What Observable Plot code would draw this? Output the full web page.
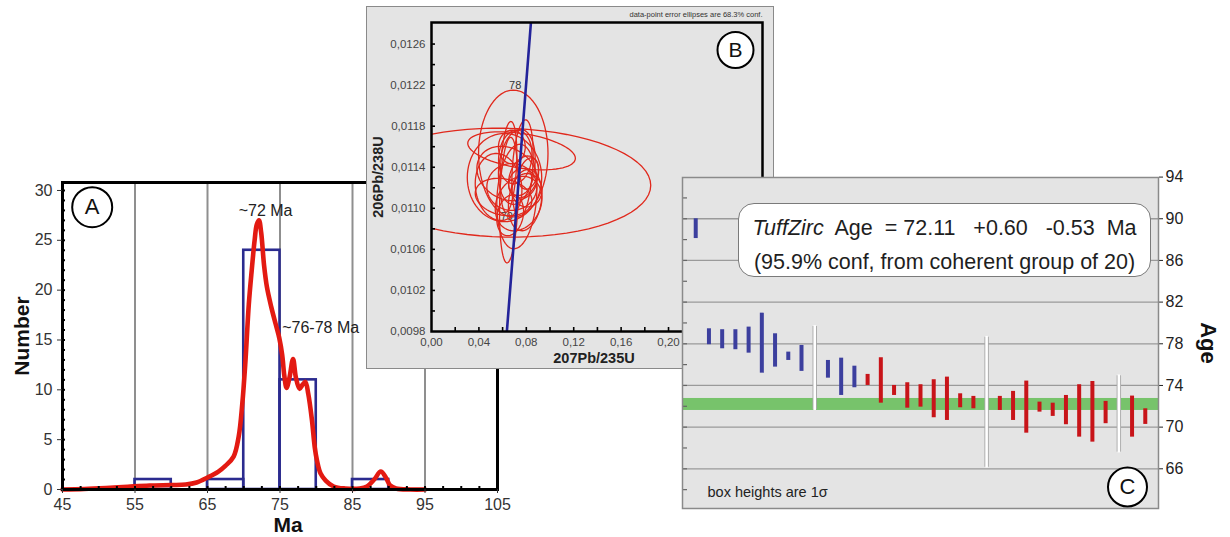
<!DOCTYPE html>
<html><head><meta charset="utf-8">
<script src="https://cdn.jsdelivr.net/npm/d3@7"></script>
<script src="https://cdn.jsdelivr.net/npm/@observablehq/plot@0.6"></script>
<style>
html,body{margin:0;padding:0;background:#fff;}
#root{position:relative;width:1230px;height:537px;overflow:hidden;font-family:"Liberation Sans",Arial,sans-serif;}
.abs{position:absolute;}
#panelB{left:366px;top:6px;width:406px;height:361px;background:#e4e4e4;border:1.5px solid #8a8a8a;}
#tzbox{left:738px;top:203px;width:411px;height:72px;background:#fff;border:1.5px solid #7a7a7a;border-radius:16px;color:#1e1e1e;font-size:21.5px;}
#tzbox .ln{position:absolute;left:0;width:100%;text-align:center;white-space:pre;line-height:24px;}
</style></head><body><div id="root"></div>
<script>
const FONT = '"Liberation Sans", Arial, sans-serif';

// ---------- Panel A: histogram + probability curve ----------
const histStart = [55, 65, 70, 75, 85];
const histEnd   = [60, 70, 75, 80, 90];
const histCount = [1, 1, 24, 11, 1];
const kdeMa = [45,48,51,54,57,60,62,63.5,65,66.5,67.5,68.6,69.3,69.8,70.2,70.7,71.1,71.5,71.8,72.1,72.4,72.8,73.2,73.8,74.4,74.9,75.3,75.6,75.9,76.3,76.8,77.2,77.7,78.1,78.5,78.9,79.4,79.8,80.1,80.6,81.3,82.4,84,86,87,88,88.9,89.6,90.2,91,93,95];
const kdeN  = [0,0.05,0.15,0.28,0.4,0.45,0.5,0.7,1.2,1.8,2.4,3.3,5.3,8.6,12.5,18.6,22,25,26.6,27,25.8,22.5,20.3,18.3,16.6,15.2,13.5,11.4,10.2,11.2,13.1,11.2,10.1,10.5,10.8,9.6,7,4.2,2.9,1.6,0.9,0.3,0.1,0.1,0.3,1.0,1.8,1.2,0.4,0.1,0,0];
const aXTicks = [45,55,65,75,85,95,105];
const aYTicks = [0,5,10,15,20,25,30];
const aGrid = [55,65,75,85,95];
const peakText = ["~72 Ma", "~76-78 Ma"];
const peakMa = [69.3, 75.3];
const peakN = [28.0, 16.2];

// ---------- Panel B: concordia ----------
const eCx  = [0.062,0.069,0.076,0.0616,0.0653,0.0768,0.072,0.0636,0.072,0.0678,0.0777,0.0608,0.0749,0.0707,0.0805,0.0664,0.0566,0.0735,0.0819,0.0678,0.065,0.079];
const eCy  = [0.01125,0.011534,0.01156,0.0113,0.01108,0.011387,0.011115,0.011339,0.011404,0.011208,0.011306,0.01111,0.011257,0.0115,0.011176,0.010932,0.011208,0.011046,0.011339,0.011598,0.011404,0.01108];
const eRx  = [0.123,0.0293,0.0454,0.0314,0.0079,0.009,0.0169,0.0253,0.0155,0.0211,0.0127,0.0239,0.0098,0.0141,0.0127,0.0113,0.0197,0.0197,0.0084,0.0113,0.007,0.0141];
const eRy  = [0.00053,0.000618,0.00017,0.00043,0.0006,0.000455,0.000504,0.00026,0.000358,0.000228,0.000195,0.000179,0.00013,0.00026,0.000163,0.000195,0.000325,0.00026,0.000146,0.000163,0.000423,0.000293];
const eTilt= [-0.05,0,-0.43,0,0.2,0.3,0.15,-0.2,0.2,0,0.3,-0.2,0.2,0.1,0,0.2,-0.1,0.2,0.3,0,0.3,0.2];
const concX = [0.0636, 0.0839];
const concY = [0.0098, 0.01281];
const concAgeLabel = ["78", "70"];
const concAgeX = [0.0706, 0.0636];
const concAgeY = [0.012193, 0.010925];
const bXTicks = [0, 0.04, 0.08, 0.12, 0.16, 0.20];
const bYTicks = [0.0098, 0.0102, 0.0106, 0.0110, 0.0114, 0.0118, 0.0122, 0.0126];

// ---------- Panel C: TuffZirc ranked ages ----------
const cKind = ["blue","blue","blue","blue","blue","blue","blue","blue","blue","white","blue","blue","blue","red","red","red","red","red","red","red","red","red","white","red","red","red","red","red","red","red","red","red","white","red","red"];
const cLow  = [88.1,77.91,77.52,77.43,77.1,75.18,75.76,76.4,75.35,71.67,74.7,73.04,73.78,74.0,72.3,73.04,71.82,71.92,70.9,70.64,71.86,71.76,66.16,71.6,70.64,69.42,71.44,71.03,70.23,69.04,68.56,70.33,67.6,69.04,70.26];
const cHigh = [90.0,79.44,79.35,79.35,79.6,80.94,78.96,77.2,77.84,79.66,76.4,76.62,75.85,75.06,76.66,74.0,74.26,74.07,74.55,74.8,73.2,72.95,78.63,72.95,73.43,74.42,72.4,72.3,73.04,74.07,74.38,72.47,74.93,72.98,71.76];
const cYTicks = [66,70,74,78,82,86,90,94];
const bandLow = 71.6, bandHigh = 72.75;

const root = document.getElementById("root");

// Panel A
const hist = histStart.map((s,i)=>({x1:s, x2:histEnd[i], n:histCount[i]}));
const kde = kdeMa.map((m,i)=>({ma:m, n:kdeN[i]}));
const peaks = peakText.map((t,i)=>({t, ma:peakMa[i], n:peakN[i]}));
const A = Plot.plot({
  width: 510, height: 367, marginLeft: 62, marginRight: 13, marginTop: 12, marginBottom: 48,
  x: {domain: [45,105]}, y: {domain: [0,30.8]},
  style: {fontFamily: FONT, background: "transparent", overflow: "visible", color: "#222"},
  marks: [
    Plot.ruleX(aGrid, {stroke: "#8f8f8f", strokeWidth: 2}),
    Plot.rectY(hist, {x1: "x1", x2: "x2", y: "n", fill: "none", stroke: "#2b2b8f", strokeWidth: 2.6}),
    Plot.line(kde, {x: "ma", y: "n", stroke: "#e31a12", strokeWidth: 4.6, curve: "catmull-rom"}),
    Plot.frame({stroke: "black", strokeWidth: 3}),
    Plot.axisX({ticks: aXTicks, tickSize: 4, tickPadding: 5, fontSize: 16, color: "#333", label: null, tickFormat: d => String(d)}),
    Plot.axisX({ticks: d3.range(47.5, 105, 2.5), tickSize: -3, tickFormat: () => "", label: null, stroke: "black", strokeWidth: 2}),
    Plot.axisY({ticks: aYTicks, tickSize: 5, tickPadding: 5, fontSize: 16, color: "#333", label: null, tickFormat: d => String(d)}),
    Plot.axisY({ticks: d3.range(1, 31), tickSize: -3, tickFormat: () => "", label: null, stroke: "black", strokeWidth: 2}),
    Plot.text(["Number"], {frameAnchor: "left", dx: -40, rotate: -90, fontSize: 21, fontWeight: "bold", textAnchor: "middle", lineAnchor: "middle", fill: "#111"}),
    Plot.text(["Ma"], {frameAnchor: "bottom", dx: 8, dy: 36, fontSize: 21, fontWeight: "bold", textAnchor: "middle", lineAnchor: "middle", fill: "#111"}),
    Plot.text(peaks, {x: "ma", y: "n", text: "t", textAnchor: "start", fontSize: 16, fill: "#222"}),
    Plot.dot([0], {frameAnchor: "top-left", dx: 29.7, dy: 24.7, r: 20, stroke: "black", strokeWidth: 2, fill: "white"}),
    Plot.text(["A"], {frameAnchor: "top-left", dx: 29.7, dy: 24.7, fontSize: 22, textAnchor: "middle", lineAnchor: "middle", fill: "#111"})
  ]
});
A.classList.add("abs"); A.style.left = "0px"; A.style.top = "170px";
root.appendChild(A);

// Panel B
const ellPts = [];
eCx.forEach((cx,i)=>{
  for (let k=0;k<=72;k++){
    const t = k/72*2*Math.PI;
    ellPts.push({id:i, x: cx + eRx[i]*Math.cos(t), y: eCy[i] + eRy[i]*Math.sin(t) + eTilt[i]*eRy[i]*Math.cos(t)});
  }
});
const conc = concX.map((x,i)=>({x, y: concY[i]}));
const concLab = concAgeLabel.map((t,i)=>({t, x: concAgeX[i], y: concAgeY[i]}));
const comma = (d, n) => d.toFixed(n).replace(".", ",");
const bDiv = document.createElement("div"); bDiv.id = "panelB"; bDiv.className = "abs";
const B = Plot.plot({
  width: 406, height: 361, marginLeft: 64, marginRight: 11, marginTop: 15, marginBottom: 37,
  x: {domain: [0, 0.2793]}, y: {domain: [0.0098, 0.01281]},
  style: {fontFamily: FONT, background: "transparent", overflow: "visible", color: "#222"},
  marks: [
    Plot.text(concLab, {x: "x", y: "y", text: "t", fontSize: 11, fill: "#333"}),
    Plot.line(ellPts, {x: "x", y: "y", z: "id", stroke: "#e0281c", strokeWidth: 1.3, clip: true}),
    Plot.line(conc, {x: "x", y: "y", stroke: "#23239a", strokeWidth: 2.6, clip: true}),
    Plot.frame({stroke: "black", strokeWidth: 2.5}),
    Plot.axisX({ticks: bXTicks, tickSize: 0, tickPadding: 6, fontSize: 11.5, color: "#444", label: null, tickFormat: d => comma(d, 2)}),
    Plot.axisX({ticks: d3.range(1, 14).map(i => i*0.02), tickSize: -4, tickFormat: () => "", label: null, stroke: "black", strokeWidth: 1.6}),
    Plot.axisY({ticks: bYTicks, tickSize: 0, tickPadding: 6, fontSize: 11.5, color: "#444", label: null, tickFormat: d => comma(d, 4)}),
    Plot.axisY({ticks: d3.range(1, 15).map(i => 0.0098 + i*0.0002), tickSize: -4, tickFormat: () => "", label: null, stroke: "black", strokeWidth: 1.6}),
    Plot.text(["207Pb/235U"], {frameAnchor: "bottom", dx: -3, dy: 27, fontSize: 14.5, fontWeight: "bold", textAnchor: "middle", lineAnchor: "middle", fill: "#222"}),
    Plot.text(["206Pb/238U"], {frameAnchor: "left", dx: -53, rotate: -90, fontSize: 14.5, fontWeight: "bold", textAnchor: "middle", lineAnchor: "middle", fill: "#222"}),
    Plot.text(["data-point error ellipses are 68.3% conf."], {frameAnchor: "top-right", dy: -7.5, fontSize: 7.5, textAnchor: "end", lineAnchor: "middle", fill: "#333"}),
    Plot.dot([0], {frameAnchor: "top-right", dx: -27, dy: 27.5, r: 18, stroke: "black", strokeWidth: 2, fill: "white"}),
    Plot.text(["B"], {frameAnchor: "top-right", dx: -27, dy: 27.5, fontSize: 21, textAnchor: "middle", lineAnchor: "middle", fill: "#111"})
  ]
});
bDiv.appendChild(B);
root.appendChild(bDiv);

// Panel C
const cAll = cKind.map((k,i)=>({slot:i, kind:k, lo:cLow[i], hi:cHigh[i]}));
const C = Plot.plot({
  width: 548, height: 340, marginLeft: 0, marginRight: 72, marginTop: 0, marginBottom: 9,
  x: {domain: [-1, 35], axis: null}, y: {domain: [62.19, 93.96]},
  style: {fontFamily: FONT, background: "transparent", overflow: "visible", color: "#222"},
  marks: [
    Plot.frame({fill: "#e4e4e4"}),
    Plot.ruleY(cYTicks.filter(v => v < 94), {stroke: "#9a9a9a", strokeWidth: 1.3}),
    Plot.rect([0], {y1: bandLow, y2: bandHigh, fill: "#77c36b"}),
    Plot.ruleX(cAll.filter(d => d.kind === "white"), {x: "slot", y1: "lo", y2: "hi", stroke: "#a8a8a8", strokeWidth: 4.4}),
    Plot.ruleX(cAll.filter(d => d.kind === "white"), {x: "slot", y1: "lo", y2: "hi", stroke: "white", strokeWidth: 2.6, insetTop: 0.8, insetBottom: 0.8}),
    Plot.ruleX(cAll.filter(d => d.kind === "blue"), {x: "slot", y1: "lo", y2: "hi", stroke: "#3c3f9e", strokeWidth: 4}),
    Plot.ruleX(cAll.filter(d => d.kind === "red"), {x: "slot", y1: "lo", y2: "hi", stroke: "#c81419", strokeWidth: 4}),
    Plot.axisY({anchor: "left", ticks: d3.range(64, 94, 2), tickSize: -5, tickFormat: () => "", label: null, stroke: "#666", strokeWidth: 1.2}),
    Plot.axisY({anchor: "right", ticks: cYTicks, tickSize: 4, tickPadding: 3, fontSize: 16, color: "#222", label: null, tickFormat: d => String(d)}),
    Plot.frame({stroke: "#8a8a8a", strokeWidth: 1.5}),
    Plot.text(["Age"], {frameAnchor: "right", dx: 50, rotate: 90, fontSize: 22, fontWeight: "bold", textAnchor: "middle", lineAnchor: "middle", fill: "#111"}),
    Plot.text(["box heights are 1σ"], {frameAnchor: "bottom-left", dx: 25, dy: -16, fontSize: 14.5, textAnchor: "start", lineAnchor: "middle", fill: "#222"}),
    Plot.dot([0], {frameAnchor: "bottom-right", dx: -31, dy: -21.5, r: 19.5, stroke: "black", strokeWidth: 2, fill: "white"}),
    Plot.text(["C"], {frameAnchor: "bottom-right", dx: -31, dy: -21.5, fontSize: 22, textAnchor: "middle", lineAnchor: "middle", fill: "#111"})
  ]
});
C.classList.add("abs"); C.style.left = "682px"; C.style.top = "177px";
root.appendChild(C);

// TuffZirc result box
const box = document.createElement("div"); box.id = "tzbox"; box.className = "abs";
const l1 = document.createElement("div"); l1.className = "ln"; l1.style.top = "12px";
const it = document.createElement("i"); it.textContent = "TuffZirc";
l1.appendChild(it); l1.appendChild(document.createTextNode("  Age  = 72.11   +0.60   -0.53  Ma"));
const l2 = document.createElement("div"); l2.className = "ln"; l2.style.top = "46px";
l2.textContent = "(95.9% conf, from coherent group of 20)";
box.appendChild(l1); box.appendChild(l2);
root.appendChild(box);
</script></body></html>
